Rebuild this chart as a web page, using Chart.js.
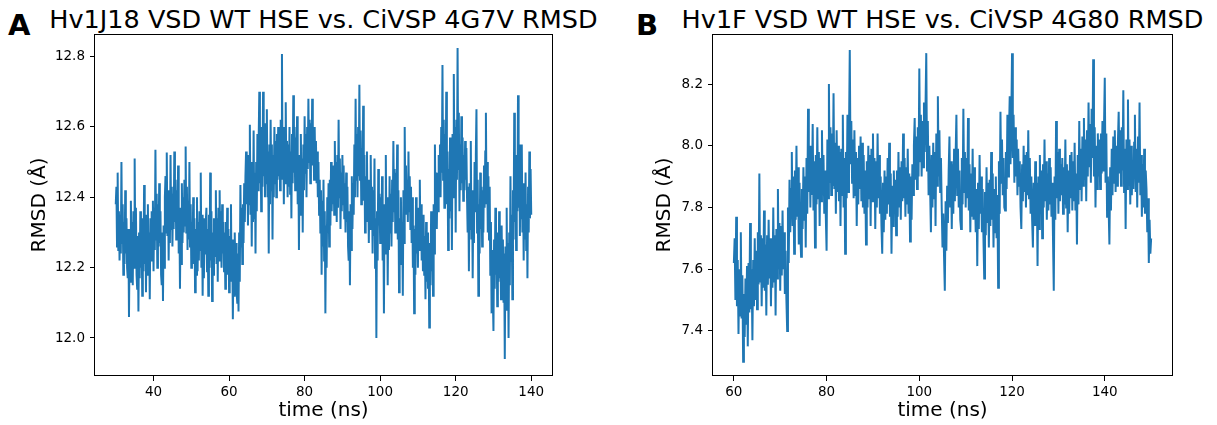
<!DOCTYPE html>
<html>
<head>
<meta charset="utf-8">
<script src="https://cdn.jsdelivr.net/npm/chart.js@4.4.0/dist/chart.umd.min.js"></script>
<style>
  body { margin: 0; background: #fff; width: 1217px; height: 425px; overflow: hidden; position: relative; }
  .panel { position: absolute; top: 0; }
  .letter { position: absolute; font: bold 29px "DejaVu Sans"; line-height: 29px; color: #000; }
  .title { position: absolute; top: 4px; width: 640px; text-align: center; white-space: nowrap;
           font: 25.5px "DejaVu Sans"; line-height: 30px; color: #000; }
</style>
</head>
<body>
<div class="letter" style="left:8px; top:11px">A</div>
<div class="letter" style="left:636px; top:11px">B</div>
<div class="title" id="titleA" style="left:3.5px"></div>
<div class="title" id="titleB" style="left:622.5px"></div>
<canvas id="chartA" class="panel" width="560" height="425" style="left:0"></canvas>
<canvas id="chartB" class="panel" width="560" height="425" style="left:620px"></canvas>
<script>
// panel A: Hv1J18 vs 4G7V, evenly sampled from 30 to 140 ns
const startA = 30, endA = 140;
const rmsdA = [
  12.38, 12.43, 12.26, 12.47, 12.25, 12.36, 12.22, 12.35, 12.24, 12.50, 12.27, 12.38, 12.18, 12.33, 12.21, 12.42, 12.24, 12.34, 12.20, 12.17, 12.31, 12.06, 12.28, 12.16, 12.39, 12.22, 12.33, 12.15, 12.36, 12.20,
  12.51, 12.24, 12.37, 12.18, 12.14, 12.29, 12.075, 12.30, 12.17, 12.36, 12.20, 12.33, 12.12, 12.34, 12.19, 12.435, 12.21, 12.35, 12.13, 12.32, 12.18, 12.38, 12.19, 12.30, 12.11, 12.34, 12.22, 12.36, 12.25, 12.39,
  12.19, 12.37, 12.25, 12.535, 12.28, 12.41, 12.20, 12.38, 12.26, 12.44, 12.27, 12.36, 12.18, 12.15, 12.30, 12.105, 12.32, 12.20, 12.40, 12.46, 12.30, 12.527, 12.29, 12.42, 12.22, 12.40, 12.27, 12.52, 12.31, 12.43,
  12.26, 12.41, 12.31, 12.53, 12.33, 12.45, 12.28, 12.42, 12.30, 12.49, 12.24, 12.37, 12.14, 12.35, 12.21, 12.44, 12.27, 12.40, 12.30, 12.45, 12.32, 12.544, 12.30, 12.43, 12.25, 12.39, 12.28, 12.50, 12.26, 12.38,
  12.20, 12.33, 12.24, 12.40, 12.21, 12.34, 12.13, 12.31, 12.18, 12.40, 12.19, 12.33, 12.22, 12.36, 12.25, 12.47, 12.20, 12.35, 12.12, 12.34, 12.17, 12.30, 12.24, 12.33, 12.37, 12.19, 12.31, 12.12, 12.35, 12.20,
  12.47, 12.22, 12.36, 12.105, 12.30, 12.18, 12.34, 12.23, 12.31, 12.42, 12.21, 12.34, 12.16, 12.37, 12.22, 12.42, 12.25, 12.36, 12.20, 12.38, 12.24, 12.33, 12.19, 12.30, 12.14, 12.33, 12.21, 12.37, 12.18, 12.31,
  12.13, 12.29, 12.17, 12.38, 12.16, 12.28, 12.053, 12.25, 12.12, 12.30, 12.18, 12.27, 12.13, 12.10, 12.24, 12.075, 12.30, 12.16, 12.435, 12.26, 12.37, 12.21, 12.38, 12.27, 12.44, 12.33, 12.46, 12.53, 12.38, 12.50,
  12.32, 12.52, 12.38, 12.606, 12.35, 12.50, 12.26, 12.48, 12.33, 12.59, 12.34, 12.47, 12.24, 12.50, 12.36, 12.58, 12.42, 12.56, 12.70, 12.44, 12.58, 12.36, 12.60, 12.43, 12.70, 12.46, 12.61, 12.40, 12.57, 12.44,
  12.65, 12.40, 12.53, 12.24, 12.55, 12.38, 12.62, 12.42, 12.55, 12.28, 12.52, 12.40, 12.60, 12.44, 12.56, 12.40, 12.58, 12.45, 12.60, 12.46, 12.57, 12.42, 12.62, 12.48, 12.807, 12.45, 12.60, 12.38, 12.58, 12.44,
  12.67, 12.45, 12.56, 12.40, 12.55, 12.43, 12.60, 12.41, 12.53, 12.34, 12.58, 12.44, 12.69, 12.47, 12.60, 12.42, 12.57, 12.46, 12.63, 12.38, 12.52, 12.25, 12.49, 12.35, 12.58, 12.40, 12.51, 12.30, 12.55, 12.42,
  12.63, 12.47, 12.58, 12.40, 12.60, 12.48, 12.68, 12.50, 12.62, 12.44, 12.61, 12.50, 12.68, 12.49, 12.59, 12.45, 12.60, 12.47, 12.56, 12.44, 12.53, 12.40, 12.50, 12.35, 12.45, 12.30, 12.42, 12.18, 12.39, 12.26,
  12.45, 12.22, 12.36, 12.07, 12.32, 12.20, 12.40, 12.30, 12.44, 12.26, 12.45, 12.32, 12.50, 12.36, 12.47, 12.38, 12.49, 12.35, 12.56, 12.38, 12.50, 12.33, 12.52, 12.37, 12.62, 12.40, 12.51, 12.31, 12.47, 12.36,
  12.52, 12.38, 12.49, 12.34, 12.44, 12.30, 12.47, 12.33, 12.43, 12.26, 12.22, 12.36, 12.15, 12.38, 12.25, 12.46, 12.31, 12.44, 12.35, 12.55, 12.40, 12.68, 12.45, 12.58, 12.40, 12.60, 12.46, 12.72, 12.45, 12.59,
  12.38, 12.54, 12.42, 12.66, 12.39, 12.52, 12.30, 12.46, 12.34, 12.53, 12.33, 12.45, 12.27, 12.44, 12.31, 12.52, 12.32, 12.43, 12.24, 12.42, 12.29, 12.51, 12.20, 12.34, 12.00, 12.36, 12.22, 12.48, 12.32, 12.41,
  12.27, 12.40, 12.29, 12.46, 12.22, 12.35, 12.07, 12.38, 12.24, 12.52, 12.27, 12.40, 12.15, 12.37, 12.25, 12.46, 12.30, 12.41, 12.26, 12.45, 12.33, 12.56, 12.36, 12.48, 12.30, 12.47, 12.34, 12.55, 12.28, 12.42,
  12.13, 12.34, 12.21, 12.40, 12.24, 12.33, 12.12, 12.42, 12.27, 12.60, 12.38, 12.49, 12.35, 12.45, 12.33, 12.53, 12.36, 12.46, 12.31, 12.43, 12.27, 12.40, 12.20, 12.32, 12.07, 12.31, 12.18, 12.40, 12.24, 12.36,
  12.20, 12.37, 12.25, 12.45, 12.27, 12.38, 12.22, 12.31, 12.19, 12.35, 12.18, 12.29, 12.11, 12.33, 12.16, 12.30, 12.14, 12.25, 12.03, 12.27, 12.15, 12.36, 12.19, 12.30, 12.12, 12.38, 12.24, 12.55, 12.36, 12.47,
  12.31, 12.46, 12.36, 12.52, 12.43, 12.55, 12.40, 12.60, 12.47, 12.776, 12.45, 12.62, 12.37, 12.58, 12.44, 12.70, 12.38, 12.53, 12.25, 12.48, 12.34, 12.57, 12.36, 12.49, 12.25, 12.58, 12.40, 12.75, 12.44, 12.60,
  12.30, 12.62, 12.45, 12.824, 12.48, 12.64, 12.36, 12.55, 12.42, 12.63, 12.44, 12.57, 12.39, 12.52, 12.42, 12.56, 12.45, 12.54, 12.40, 12.30, 12.43, 12.19, 12.44, 12.31, 12.56, 12.28, 12.42, 12.17, 12.40, 12.27,
  12.50, 12.36, 12.52, 12.65, 12.30, 12.45, 12.12, 12.38, 12.24, 12.47, 12.31, 12.43, 12.26, 12.42, 12.30, 12.49, 12.37, 12.53, 12.64, 12.38, 12.50, 12.30, 12.46, 12.28, 12.43, 12.18, 12.33, 12.07, 12.25, 12.12,
  12.02, 12.28, 12.14, 12.37, 12.18, 12.29, 12.09, 12.30, 12.16, 12.36, 12.17, 12.27, 12.11, 12.32, 12.15, 12.28, 12.10, 12.24, 11.94, 12.26, 12.08, 12.37, 12.13, 12.27, 12.00, 12.30, 12.15, 12.46, 12.22, 12.35,
  12.11, 12.42, 12.28, 12.64, 12.33, 12.50, 12.25, 12.52, 12.36, 12.69, 12.37, 12.55, 12.29, 12.47, 12.34, 12.55, 12.30, 12.44, 12.22, 12.41, 12.28, 12.47, 12.25, 12.38, 12.17, 12.43, 12.30, 12.53, 12.34, 12.48,
  12.35
];

// panel B: Hv1F vs 4G80, evenly sampled from 60 to 150 ns
const startB = 60, endB = 150;
const rmsdB = [
  7.62, 7.70, 7.50, 7.77, 7.48, 7.63, 7.39, 7.60, 7.45, 7.72, 7.44, 7.58, 7.30, 7.52, 7.38, 7.57, 7.42, 7.61, 7.35, 7.62, 7.46, 7.75, 7.47, 7.60, 7.37, 7.63, 7.48, 7.70, 7.50, 7.66,
  7.47, 7.72, 7.55, 7.91, 7.56, 7.71, 7.48, 7.70, 7.54, 7.79, 7.53, 7.68, 7.45, 7.71, 7.55, 7.76, 7.57, 7.70, 7.48, 7.68, 7.54, 7.80, 7.56, 7.71, 7.45, 7.73, 7.57, 7.86, 7.60, 7.75,
  7.53, 7.74, 7.58, 7.79, 7.60, 7.72, 7.52, 7.66, 7.50, 7.40, 7.80, 7.62, 7.89, 7.72, 7.86, 7.98, 7.74, 7.90, 7.65, 7.92, 7.76, 8.00, 7.77, 7.93, 7.68, 7.88, 7.72, 7.64, 7.86, 7.73,
  7.93, 7.76, 7.90, 7.67, 7.96, 7.78, 8.12, 7.85, 8.00, 7.80, 8.00, 7.84, 8.07, 7.79, 7.95, 7.67, 7.97, 7.81, 8.06, 7.83, 7.98, 7.74, 7.96, 7.82, 8.05, 7.84, 7.97, 7.78, 7.92, 7.77,
  7.66, 8.02, 7.83, 8.20, 7.88, 8.06, 7.84, 8.04, 7.87, 8.17, 7.86, 8.01, 7.78, 8.05, 7.85, 8.00, 7.82, 7.98, 7.74, 7.99, 7.84, 8.10, 7.80, 7.96, 7.65, 7.98, 7.83, 8.10, 7.85, 8.04,
  8.31, 7.94, 8.08, 7.88, 8.02, 7.83, 8.05, 7.84, 7.98, 7.74, 7.96, 7.81, 8.00, 7.86, 8.03, 7.82, 8.01, 7.80, 7.97, 7.78, 7.92, 7.68, 7.95, 7.80, 8.00, 7.83, 7.97, 7.74, 7.99, 7.82,
  8.04, 7.82, 7.96, 7.73, 7.95, 7.80, 8.04, 7.83, 7.97, 7.78, 7.90, 7.74, 7.65, 7.88, 7.72, 7.92, 7.76, 7.90, 7.78, 7.96, 7.81, 8.01, 7.77, 7.91, 7.65, 7.87, 7.74, 7.92, 7.79, 7.89,
  7.71, 7.92, 7.77, 7.98, 7.80, 7.93, 7.76, 7.95, 7.82, 8.04, 7.83, 7.96, 7.77, 7.93, 7.81, 7.99, 7.78, 7.91, 7.69, 7.90, 7.76, 7.94, 7.84, 8.00, 8.09, 7.89, 8.03, 7.86, 8.06, 7.90,
  8.25, 7.95, 8.10, 7.90, 8.08, 7.93, 8.14, 7.98, 8.12, 8.30, 7.92, 8.08, 7.84, 8.00, 7.86, 7.72, 7.97, 7.80, 8.01, 7.83, 7.98, 7.74, 8.04, 7.87, 8.16, 7.90, 8.05, 7.85, 7.96, 7.80,
  7.67, 7.78, 7.64, 7.53, 7.82, 7.66, 7.87, 7.75, 7.92, 8.03, 7.80, 7.95, 7.73, 7.94, 7.78, 7.99, 7.82, 7.97, 8.10, 7.84, 7.99, 7.80, 7.92, 7.76, 7.73, 7.96, 7.81, 8.12, 7.85, 7.98,
  7.80, 7.96, 7.83, 8.09, 7.79, 7.94, 7.72, 7.91, 7.77, 7.99, 7.76, 7.93, 7.84, 7.72, 7.86, 7.61, 7.88, 7.73, 7.97, 7.78, 7.90, 7.72, 7.86, 7.70, 7.57, 7.85, 7.71, 7.93, 7.75, 7.88,
  7.67, 7.89, 7.74, 7.98, 7.76, 7.91, 7.67, 7.86, 7.72, 7.90, 7.70, 7.84, 7.54, 7.95, 7.78, 8.11, 7.88, 8.02, 7.84, 7.96, 7.80, 7.79, 7.98, 7.86, 8.10, 7.90, 8.04, 8.16, 7.94, 8.08,
  8.30, 7.96, 8.10, 7.88, 8.06, 7.90, 8.02, 7.84, 7.99, 7.87, 7.95, 7.80, 7.73, 7.94, 7.82, 8.00, 7.85, 7.97, 7.80, 7.98, 7.84, 8.05, 7.83, 7.96, 7.78, 7.90, 7.76, 7.67, 7.88, 7.74,
  7.95, 7.74, 7.88, 7.61, 7.90, 7.73, 7.97, 7.78, 7.92, 7.70, 7.94, 7.80, 8.02, 7.82, 7.95, 7.76, 7.91, 7.79, 7.96, 7.81, 7.93, 7.77, 7.88, 7.70, 7.53, 7.90, 7.76, 8.08, 7.83, 7.98,
  7.78, 7.99, 7.82, 7.94, 7.84, 7.96, 7.78, 7.93, 7.81, 8.02, 7.80, 7.94, 7.72, 7.92, 7.78, 7.97, 7.83, 7.98, 7.79, 7.95, 7.82, 8.01, 7.79, 7.91, 7.68, 7.97, 7.81, 8.08, 7.86, 7.99,
  7.82, 8.03, 7.87, 8.09, 7.89, 8.02, 7.82, 8.05, 7.90, 8.14, 7.93, 8.07, 7.88, 8.12, 7.96, 8.28, 7.90, 8.06, 7.80, 8.00, 7.86, 8.04, 7.90, 8.02, 7.86, 8.04, 7.91, 8.08, 7.92, 8.06,
  8.22, 7.88, 8.04, 7.77, 7.90, 7.80, 7.68, 7.93, 7.79, 7.99, 7.84, 8.03, 7.88, 8.05, 7.85, 8.00, 7.87, 8.01, 8.11, 7.91, 8.05, 7.87, 8.06, 7.92, 8.18, 7.85, 7.99, 7.73, 8.02, 7.86,
  8.15, 7.87, 8.02, 7.81, 8.00, 7.84, 7.95, 7.86, 8.01, 8.10, 7.85, 7.99, 7.80, 8.03, 7.88, 8.14, 7.84, 7.97, 7.77, 7.94, 7.80, 7.99, 7.78, 7.92, 7.86, 7.72, 7.83, 7.62, 7.76, 7.65,
  7.70
];

const titleA = 'Hv1J18 VSD WT HSE vs. CiVSP 4G7V RMSD';
const titleB = 'Hv1F VSD WT HSE vs. CiVSP 4G80 RMSD';
const xLabel = 'time (ns)';
const yLabel = 'RMSD (Å)';

document.getElementById('titleA').textContent = titleA;
document.getElementById('titleB').textContent = titleB;

// draws the top and right spines too
const frame = {
  id: 'frame',
  afterDraw(chart) {
    const a = chart.chartArea;
    const ctx = chart.ctx;
    ctx.save();
    ctx.strokeStyle = '#000';
    ctx.lineWidth = 1;
    ctx.strokeRect(Math.round(a.left) - 0.5, Math.round(a.top) + 0.5,
      Math.round(a.right - a.left) + 1, Math.round(a.bottom - a.top) - 1);
    ctx.restore();
  }
};

function makeChart(id, start, end, values, xRange, yRange, yAxisWidth, yTitlePad) {
  const step = (end - start) / (values.length - 1);
  const points = values.map((v, i) => ({ x: start + i * step, y: v }));
  const tickFont = { family: 'DejaVu Sans', size: 13.5 };
  const labelFont = { family: 'DejaVu Sans', size: 20 };
  return new Chart(document.getElementById(id), {
    type: 'line',
    data: {
      datasets: [{
        data: points,
        borderColor: '#1f77b4',
        borderWidth: 2,
        pointRadius: 0,
        fill: false,
        tension: 0
      }]
    },
    options: {
      responsive: false,
      animation: false,
      devicePixelRatio: 1,
      layout: { padding: { left: 0, right: 8, top: 34, bottom: 0 } },
      plugins: {
        legend: { display: false },
        tooltip: { enabled: false },
        title: { display: false }
      },
      scales: {
        x: {
          type: 'linear',
          min: xRange[0],
          max: xRange[1],
          afterFit: s => { s.height = 49; },
          ticks: { stepSize: 20, includeBounds: false, color: '#000', font: tickFont, padding: 3, maxRotation: 0 },
          grid: { drawOnChartArea: false, tickLength: 5, color: '#000' },
          border: { display: false },
          title: { display: true, text: xLabel, color: '#000', font: labelFont, padding: { top: 0, bottom: 2 } }
        },
        y: {
          min: yRange[0],
          max: yRange[1],
          afterFit: s => { s.width = yAxisWidth; },
          ticks: { stepSize: 0.2, includeBounds: false, color: '#000', font: tickFont, padding: 5 },
          grid: { drawOnChartArea: false, tickLength: 5, color: '#000' },
          border: { display: false },
          title: { display: true, text: yLabel, color: '#000', font: labelFont, padding: { top: yTitlePad, bottom: 0 } }
        }
      }
    },
    plugins: [frame]
  });
}

makeChart('chartA', startA, endA, rmsdA, [24.5, 145.5], [11.892, 12.864], 95, 27.5);
makeChart('chartB', startB, endB, rmsdB, [55.5, 154.5], [7.254, 8.362], 93, 32.5);
</script>
</body>
</html>
